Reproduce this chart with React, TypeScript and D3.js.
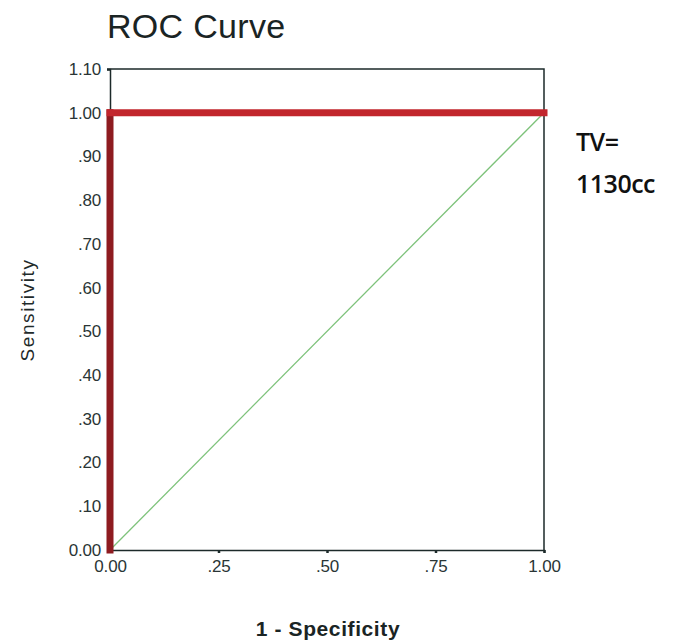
import React, { useEffect, useRef } from "react";
import * as d3 from "d3";

// ROC curve points (1 - specificity, sensitivity)
const rocFpr = [0, 0, 1];
const rocTpr = [0, 1, 1];
// reference diagonal
const refFpr = [0, 1];
const refTpr = [0, 1];

const yTicks = [0, 0.1, 0.2, 0.3, 0.4, 0.5, 0.6, 0.7, 0.8, 0.9, 1.0, 1.1];
const xTicks = [0, 0.25, 0.5, 0.75, 1.0];
const noteLines = ["TV=", "1130cc"];

const segColors = ["#8e1b20", "#c2262d"];

function fmt(v: number) {
    if (v === 0) return "0.00";
    if (v >= 1) return v.toFixed(2);
    return v.toFixed(2).replace(/^0/, "");
}

export default function App() {
    const ref = useRef<SVGSVGElement>(null);

    useEffect(() => {
        const width = 678;
        const height = 641;
        const marginLeft = 110;
        const marginRight = 134;
        const marginTop = 69;
        const marginBottom = 91;
        const font = "Liberation Sans, Arial, sans-serif";

        const svg = d3.select(ref.current);
        svg.selectAll("*").remove();

        const x = d3
            .scaleLinear()
            .domain([0, 1])
            .range([marginLeft, width - marginRight]);
        const y = d3
            .scaleLinear()
            .domain([0, 1.1])
            .range([height - marginBottom, marginTop]);

        const axisColor = "#1c2a2a";
        const labelColor = "#2a3535";

        // frame: top and right borders
        svg.append("path")
            .attr("d", `M${x(0)},${y(1.1)}H${x(1)}V${y(0)}`)
            .attr("fill", "none")
            .attr("stroke", axisColor)
            .attr("stroke-width", 1.5);

        // y axis
        const yAxis = svg
            .append("g")
            .attr("transform", `translate(${marginLeft},0)`)
            .call(
                d3
                    .axisLeft(y)
                    .tickValues(yTicks)
                    .tickFormat((d) => fmt(+d))
                    .tickSize(3)
                    .tickPadding(6)
            );
        yAxis.select(".domain").attr("stroke", axisColor).attr("stroke-width", 1.5);
        yAxis.selectAll(".tick line").attr("stroke", axisColor).attr("stroke-width", 2.5);
        yAxis
            .selectAll(".tick text")
            .attr("fill", labelColor)
            .attr("font-family", font)
            .attr("font-size", 17)
            .attr("letter-spacing", "-0.2px");

        // x axis
        const xAxis = svg
            .append("g")
            .attr("transform", `translate(0,${height - marginBottom})`)
            .call(
                d3
                    .axisBottom(x)
                    .tickValues(xTicks)
                    .tickFormat((d) => fmt(+d))
                    .tickSize(3)
                    .tickPadding(7)
            );
        xAxis.select(".domain").attr("stroke", axisColor).attr("stroke-width", 1.5);
        xAxis.selectAll(".tick line").attr("stroke", axisColor).attr("stroke-width", 2.5);
        xAxis
            .selectAll(".tick text")
            .attr("fill", labelColor)
            .attr("font-family", font)
            .attr("font-size", 17)
            .attr("letter-spacing", "-0.2px");

        // diagonal reference line
        const line = d3
            .line<number>()
            .x((d, i) => x(refFpr[i]))
            .y((d, i) => y(refTpr[i]));
        svg.append("path")
            .attr("d", line(refFpr))
            .attr("fill", "none")
            .attr("stroke", "#7dc27a")
            .attr("stroke-width", 1.3);

        // ROC curve, drawn segment by segment
        const segs = d3.range(rocFpr.length - 1);
        svg.append("g")
            .selectAll("line")
            .data(segs)
            .join("line")
            .attr("x1", (i) => x(rocFpr[i]))
            .attr("y1", (i) => y(rocTpr[i]))
            .attr("x2", (i) => x(rocFpr[i + 1]))
            .attr("y2", (i) => y(rocTpr[i + 1]))
            .attr("stroke", (i) => segColors[i])
            .attr("stroke-width", 7)
            .attr("stroke-linecap", "square");

        // title
        svg.append("text")
            .attr("x", 107)
            .attr("y", 38)
            .attr("fill", "#1a2424")
            .attr("font-family", font)
            .attr("font-size", 34)
            .attr("letter-spacing", "0.3px")
            .text("ROC Curve");

        // axis titles
        svg.append("text")
            .attr("transform", `translate(34,${310}) rotate(-90)`)
            .attr("text-anchor", "middle")
            .attr("fill", "#1f2a2a")
            .attr("font-family", font)
            .attr("font-size", 19)
            .attr("letter-spacing", "1.6px")
            .text("Sensitivity");

        svg.append("text")
            .attr("x", 328)
            .attr("y", 636)
            .attr("text-anchor", "middle")
            .attr("fill", "#1a2424")
            .attr("font-family", font)
            .attr("font-size", 21)
            .attr("font-weight", "bold")
            .attr("letter-spacing", "0.6px")
            .text("1 - Specificity");

        // annotation
        svg.append("g")
            .selectAll("text")
            .data(noteLines)
            .join("text")
            .attr("x", 576)
            .attr("y", (d, i) => 151 + i * 42)
            .attr("fill", "#111")
            .attr("font-family", "Open Sans, sans-serif")
            .attr("font-size", 25)
            .attr("font-weight", 600)
            .attr("letter-spacing", "-0.5px")
            .text((d) => d);
    }, []);

    return (
        <svg
            ref={ref}
            width={678}
            height={641}
            style={{ position: "absolute", left: 0, top: 0, background: "#fff" }}
        />
    );
}
